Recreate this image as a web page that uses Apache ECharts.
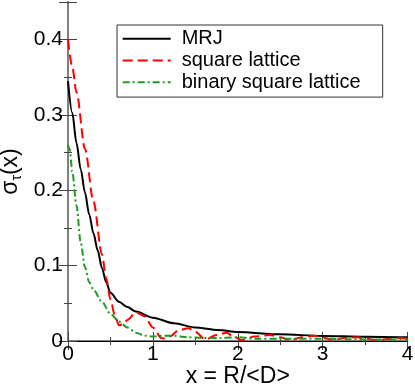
<!DOCTYPE html>
<html>
<head>
<meta charset="utf-8">
<script src="https://cdn.jsdelivr.net/npm/echarts@6/dist/echarts.min.js"></script>
<style>
  html, body { margin: 0; padding: 0; background: #fff; }
  #chart { width: 415px; height: 387px; }
</style>
</head>
<body>
<div id="chart"></div>
<script>
// values
var mrjX = [0, 0.05, 0.1, 0.15, 0.2, 0.25, 0.3, 0.35, 0.4, 0.45, 0.5, 0.6, 0.7, 0.8, 1.0, 1.25, 1.5, 1.77, 2.0, 2.5, 3.0, 3.5, 4.0]
var mrjY = [0.345, 0.303, 0.263, 0.228, 0.197, 0.168, 0.143, 0.12, 0.097, 0.078, 0.064, 0.052, 0.045, 0.039, 0.031, 0.0235, 0.018, 0.0146, 0.012, 0.0088, 0.0068, 0.0057, 0.005]

var sqX = [0, 0.05, 0.1, 0.2, 0.3, 0.4, 0.45, 0.5, 0.55, 0.6, 0.65, 0.7, 0.8, 0.9, 1.0, 1.1, 1.15, 1.2, 1.3, 1.42, 1.5, 1.62, 1.75, 1.87, 1.95, 2.05, 2.2, 2.38, 2.5, 2.62, 2.75, 2.9, 3.0, 3.12, 3.25, 3.41, 3.5, 3.65, 3.8, 3.92, 4.0]
var sqY = [0.40, 0.364, 0.33, 0.255, 0.185, 0.115, 0.083, 0.055, 0.035, 0.021, 0.022, 0.028, 0.038, 0.033, 0.018, 0.004, 0.003, 0.006, 0.014, 0.017, 0.012, 0.002, 0.008, 0.011, 0.006, 0.001, 0.006, 0.008, 0.005, 0.001, 0.005, 0.007, 0.005, 0.001, 0.004, 0.005, 0.003, 0.001, 0.003, 0.004, 0.003]

var binX = [0, 0.02, 0.05, 0.1, 0.15, 0.2, 0.25, 0.3, 0.4, 0.5, 0.6, 0.7, 0.8, 0.9, 1.0, 1.1, 1.25, 1.4, 1.6, 1.8, 2.0, 2.2, 2.5, 3.0, 3.5, 4.0]
var binY = [0.26, 0.255, 0.225, 0.18, 0.13, 0.098, 0.078, 0.068, 0.052, 0.036, 0.026, 0.018, 0.011, 0.007, 0.006, 0.007, 0.007, 0.005, 0.004, 0.004, 0.005, 0.003, 0.003, 0.003, 0.002, 0.002]

var xTicks = [0, 1, 2, 3, 4]
var yTicks = [0, 0.1, 0.2, 0.3, 0.4]

function pairs(xs, ys){
    return xs.map(function(x, i){ return [x, ys[i]] })
}

var chart = echarts.init(document.getElementById("chart"))
var font = "Liberation Sans, Arial, sans-serif"

var tickStyle = { inside: true, length: 9, lineStyle: { color: '#444', width: 1 } }
var minorStyle = { show: true, splitNumber: 2, length: 4, lineStyle: { color: '#444', width: 1 } }

var option = {
    animation: false,
    grid: { left: 68, right: 7.5, top: 2, bottom: 46, outerBoundsMode: 'none', containLabel: false },
    legend: {
        orient: 'vertical',
        left: 117,
        top: 25,
        padding: [3, 22, 4, 4.7],
        itemGap: 0,
        itemWidth: 48,
        itemHeight: 14,
        borderColor: '#333',
        borderWidth: 1,
        itemStyle: { opacity: 0 },
        textStyle: { fontFamily: font, fontSize: 20, color: '#000', lineHeight: 21.7, padding: [0, 0, 0, 6] },
        data: ['MRJ', 'square lattice', 'binary square lattice']
    },
    xAxis: [
        {
            type: 'value', min: xTicks[0], max: xTicks[xTicks.length - 1], interval: 1,
            name: 'x = R/<D>', nameLocation: 'middle', nameGap: 24, nameMoveOverlap: false,
            nameTextStyle: { fontFamily: font, fontSize: 23, color: '#000' },
            axisLine: { lineStyle: { color: '#808080', width: 2 } },
            axisTick: tickStyle, minorTick: minorStyle,
            axisLabel: { fontFamily: font, fontSize: 21, color: '#000', margin: 3 },
            splitLine: { show: false }
        },
        {
            type: 'value', position: 'top', min: 0, max: 4, interval: 1,
            axisLine: { lineStyle: { color: '#000', width: 1 } },
            axisTick: tickStyle, minorTick: minorStyle,
            axisLabel: { show: false }, splitLine: { show: false }
        }
    ],
    yAxis: [
        {
            type: 'value', min: 0, max: 0.45, interval: 0.1,
            name: '{a|σ}{b|τ}{a|(x)}', nameLocation: 'middle', nameGap: 44, nameMoveOverlap: false,
            nameTextStyle: {
                fontFamily: font, color: '#000',
                rich: {
                    a: { fontFamily: font, fontSize: 23, color: '#000', lineHeight: 26 },
                    b: { fontFamily: font, fontSize: 14, color: '#000', verticalAlign: 'bottom', lineHeight: 26, padding: [10, 0, 0, 0] }
                }
            },
            axisLine: { lineStyle: { color: '#808080', width: 2 } },
            axisTick: tickStyle, minorTick: minorStyle,
            axisLabel: { fontFamily: font, fontSize: 21, color: '#000', margin: 5, showMaxLabel: false },
            splitLine: { show: false }
        },
        {
            type: 'value', position: 'right', min: 0, max: 0.45, interval: 0.1,
            axisLine: { lineStyle: { color: '#808080', width: 2 } },
            axisTick: tickStyle, minorTick: minorStyle,
            axisLabel: { show: false }, splitLine: { show: false }
        }
    ],
    series: [
        {
            name: 'MRJ', type: 'line', data: pairs(mrjX, mrjY),
            symbol: 'none', smooth: 0.3, smoothMonotone: 'x',
            lineStyle: { color: '#000', width: 2 }, itemStyle: { color: '#000', opacity: 0 }
        },
        {
            name: 'square lattice', type: 'line', data: pairs(sqX, sqY),
            symbol: 'none', smooth: 0.3, smoothMonotone: 'x',
            lineStyle: { color: '#ff0000', width: 2, type: [10, 5] }, itemStyle: { color: '#ff0000', opacity: 0 }
        },
        {
            name: 'binary square lattice', type: 'line', data: pairs(binX, binY),
            symbol: 'none', smooth: 0.3, smoothMonotone: 'x',
            lineStyle: { color: '#1f9a1f', width: 2, type: [7, 3, 2, 3] }, itemStyle: { color: '#1f9a1f', opacity: 0 }
        }
    ]
}
chart.setOption(option)
</script>
</body>
</html>
